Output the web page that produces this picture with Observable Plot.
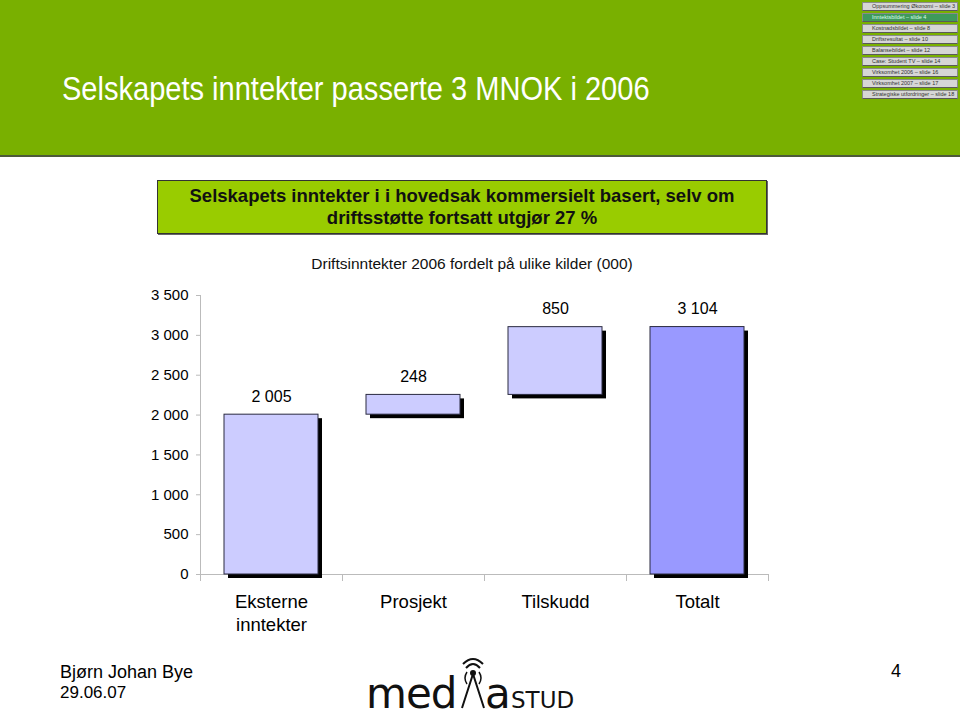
<!DOCTYPE html>
<html>
<head>
<meta charset="utf-8">
<script src="https://cdn.jsdelivr.net/npm/d3@7"></script>
<script src="https://cdn.jsdelivr.net/npm/@observablehq/plot@0.6"></script>
<style>
  html, body { margin: 0; padding: 0; background: #fff; }
  body { width: 960px; height: 720px; position: relative; overflow: hidden; font-family: "Liberation Sans", Arial, sans-serif; }
  #header { position: absolute; left: 0; top: 0; width: 960px; height: 155px; background: #79b000; border-bottom: 2px solid #4d5a3a; }
  #header h1 { position: absolute; left: 62px; top: 70px; margin: 0; font-weight: normal; font-size: 33px; color: #fff; transform: scaleX(0.88); transform-origin: left top; white-space: nowrap; }
  #nav { position: absolute; left: 862px; top: 2px; width: 96px; }
  #nav div { height: 7px; margin-bottom: 2px; background: #d6d6d6; border: 1px solid #8a8a8a; border-bottom-color: #5a5a5a; font-size: 5.5px; line-height: 7px; color: #333; padding-left: 9px; white-space: nowrap; box-sizing: content-box; width: 85px; overflow: hidden; }
  #nav div.on { background: #3f9a5c; color: #dfe; }
  #box { position: absolute; left: 157px; top: 180px; width: 608px; height: 48px; background: #99cc00; border: 1px solid #333; box-shadow: 1px 1px 0 #666; text-align: center; font-weight: bold; font-size: 18.5px; line-height: 22px; color: #111; padding-top: 4px; box-sizing: content-box; }
  #sub { position: absolute; left: 140px; width: 664px; top: 255px; text-align: center; font-size: 15.5px; color: #111; }
  #chart { position: absolute; left: 140px; top: 280px; }
  #foot1 { position: absolute; left: 60px; top: 661px; font-size: 18px; color: #000; line-height: 22px; }
  #foot2 { position: absolute; left: 60px; top: 683px; font-size: 17px; color: #000; }
  #page { position: absolute; left: 891px; top: 661px; font-size: 18px; }
  #logo { position: absolute; left: 360px; top: 652px; }
</style>
</head>
<body>
<div id="header">
  <h1>Selskapets inntekter passerte 3 MNOK i 2006</h1>
  <div id="nav"></div>
</div>
<div id="box">Selskapets inntekter i i hovedsak kommersielt basert, selv om<br>driftsstøtte fortsatt utgjør 27 %</div>
<div id="sub">Driftsinntekter 2006 fordelt på ulike kilder (000)</div>
<div id="chart"></div>
<div id="foot1">Bjørn Johan Bye</div>
<div id="foot2">29.06.07</div>
<div id="page">4</div>
<svg id="logo" width="240" height="68" viewBox="0 0 240 68">
  <text x="6" y="56" font-family="DejaVu Sans" font-size="42" fill="#111" letter-spacing="-1">med</text>
  <g stroke="#111" fill="none" stroke-width="2">
    <path d="M102 56 L113 22 L124 56"/>
    <path d="M106 16 Q113 8 120 16"/>
    <path d="M103 12 Q113 2 123 12"/>
    <path d="M107 32 Q103 26 107 20" stroke-width="1.5"/>
    <path d="M119 32 Q123 26 119 20" stroke-width="1.5"/>
  </g>
  <circle cx="113" cy="21" r="3" fill="#111"/>
  <text x="125" y="56" font-family="DejaVu Sans" font-size="42" fill="#111">a</text>
  <text x="151" y="56" font-family="DejaVu Sans" font-size="23" fill="#111">STUD</text>
</svg>
<script>
// ---- data ----
const navItems = ["Oppsummering Økonomi – slide 3", "Inntektsbildet – slide 4", "Kostnadsbildet – slide 8", "Driftsresultat – slide 10", "Balansebildet – slide 12", "Case: Student TV – slide 14", "Virksomhet 2006 – slide 16", "Virksomhet 2007 – slide 17", "Strategiske utfordringer – slide 18"];
const categories = ["Eksterne\ninntekter", "Prosjekt", "Tilskudd", "Totalt"];
const values = [2005, 248, 850, 3104];
const isTotal = [false, false, false, true];
const fills = ["#ccccff", "#ccccff", "#ccccff", "#9999ff"];
const yTicks = [0, 500, 1000, 1500, 2000, 2500, 3000, 3500];

// nav
const nav = document.getElementById("nav");
navItems.forEach((t, i) => {
  const d = document.createElement("div");
  d.textContent = t;
  if (i === 1) d.className = "on";
  nav.appendChild(d);
});

// waterfall rows
let run = 0;
const rows = categories.map((c, i) => {
  const y1 = isTotal[i] ? 0 : run;
  const y2 = isTotal[i] ? values[i] : run + values[i];
  if (!isTotal[i]) run += values[i];
  return {cat: c, y1, y2, value: values[i], fill: fills[i]};
});

const locale = d3.formatLocale({decimal: ",", thousands: " ", grouping: [3], currency: ["", ""]});
const fmt = locale.format(",d");

const chart = Plot.plot({
  width: 640,
  height: 370,
  marginLeft: 60,
  marginRight: 12,
  marginTop: 15,
  marginBottom: 76,
  style: {fontFamily: "'Liberation Sans', Arial, sans-serif", background: "transparent", color: "#000", overflow: "visible"},
  x: {domain: categories, paddingInner: 0.34, paddingOuter: 0.17, label: null},
  y: {domain: [0, 3500], label: null},
  color: {type: "identity"},
  marks: [
    Plot.frame({anchor: "left", stroke: "#bbb"}),
    Plot.frame({anchor: "bottom", stroke: "#bbb"}),
    Plot.ruleX(categories, {x: d => d, dx: -71, y1: 0, y2: 0, insetBottom: -7, stroke: "#bbb"}),
    Plot.ruleX(categories.slice(-1), {x: d => d, dx: 71, y1: 0, y2: 0, insetBottom: -7, stroke: "#bbb"}),
    Plot.axisY({ticks: yTicks, tickFormat: fmt, tickSize: 4, tickPadding: 8, fontSize: 15, stroke: "#bbb", fill: "#000"}),
    Plot.axisX({tickSize: 0, tickPadding: 17, fontSize: 18.5, lineHeight: 1.25, fill: "#000"}),
    Plot.rectY(rows, {x: "cat", y1: "y1", y2: "y2", fill: "#000", dx: 4, dy: 4}),
    Plot.rectY(rows, {x: "cat", y1: "y1", y2: "y2", fill: "fill", stroke: "#2a2a40", strokeWidth: 1}),
    Plot.text(rows, {x: "cat", y: "y2", text: d => fmt(d.value), dy: -18, fontSize: 16, fill: "#000"})
  ]
});
document.getElementById("chart").appendChild(chart);
</script>
</body>
</html>
